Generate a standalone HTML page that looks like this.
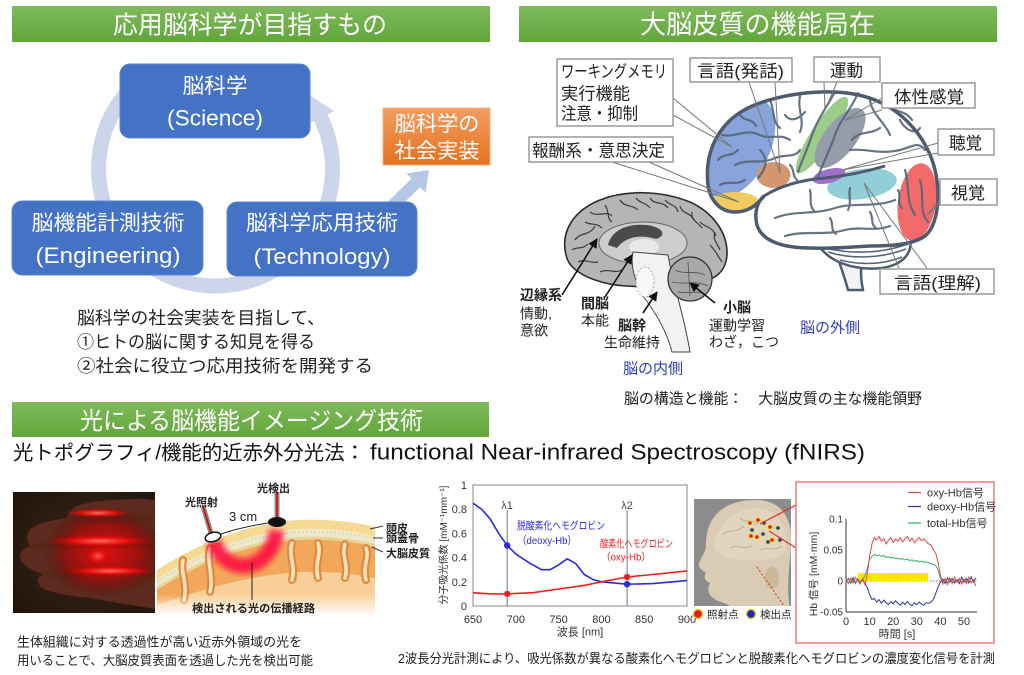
<!DOCTYPE html>
<html><head><meta charset="utf-8">
<style>
html,body{margin:0;padding:0;background:#fff;width:1024px;height:675px;overflow:hidden;}
svg{display:block;}
</style></head><body>
<svg width="1024" height="675" viewBox="0 0 1024 675" xmlns="http://www.w3.org/2000/svg" font-family="'Liberation Sans','Noto Sans CJK JP',sans-serif">
<defs>
<linearGradient id="gbar" x1="0" y1="0" x2="0" y2="1"><stop offset="0" stop-color="#7fba5b"/><stop offset="1" stop-color="#62a63b"/></linearGradient>
<linearGradient id="gor" x1="0" y1="0" x2="0" y2="1"><stop offset="0" stop-color="#f29d60"/><stop offset="1" stop-color="#e5721f"/></linearGradient>
<radialGradient id="handbg" cx="0.55" cy="0.5" r="0.7"><stop offset="0" stop-color="#3e2618"/><stop offset="1" stop-color="#21150c"/></radialGradient>
<radialGradient id="glow" cx="0.5" cy="0.5" r="0.5"><stop offset="0" stop-color="#ff6a5a" stop-opacity="1"/><stop offset="0.5" stop-color="#f01010" stop-opacity="0.85"/><stop offset="1" stop-color="#a00000" stop-opacity="0"/></radialGradient>
<radialGradient id="bigglow" cx="0.5" cy="0.5" r="0.5"><stop offset="0" stop-color="#e81010" stop-opacity="0.95"/><stop offset="0.6" stop-color="#b00808" stop-opacity="0.7"/><stop offset="1" stop-color="#600000" stop-opacity="0"/></radialGradient>
<linearGradient id="fadeb" x1="0" y1="0" x2="0" y2="1"><stop offset="0" stop-color="#fff" stop-opacity="0"/><stop offset="1" stop-color="#fff" stop-opacity="1"/></linearGradient>
<filter id="blur3" x="-30%" y="-30%" width="160%" height="160%"><feGaussianBlur stdDeviation="3"/></filter>
<filter id="blur2" x="-30%" y="-30%" width="160%" height="160%"><feGaussianBlur stdDeviation="1.5"/></filter>
<marker id="ah" viewBox="0 0 10 10" refX="9" refY="5" markerWidth="6" markerHeight="6" orient="auto"><path d="M0,0 L10,5 L0,10 z" fill="#111"/></marker>
<clipPath id="cbclip"><path d="M 708,185 C 704,150 720,118 757,104 C 790,92 840,86 875,100 C 905,112 928,140 935,170 C 941,195 938,225 925,236 C 912,245 890,246 870,246 C 850,247 830,249 810,248 C 785,248 762,242 757,225 C 754,213 757,202 764,196 C 756,206 748,212 735,212 C 720,212 710,200 708,185 Z"/></clipPath>
<clipPath id="xsclip"><rect x="155" y="480" width="225" height="135"/></clipPath>
<clipPath id="handclip"><rect x="13" y="492" width="142" height="121"/></clipPath>
<clipPath id="headclip"><rect x="694" y="499" width="97" height="107"/></clipPath>
</defs>

<!-- ================= TOP LEFT ================= -->
<rect x="12" y="6" width="478" height="36" fill="url(#gbar)"/>
<text x="250" y="33.5" text-anchor="middle" font-size="25" fill="#fff" textLength="274" lengthAdjust="spacingAndGlyphs">応用脳科学が目指すもの</text>

<path d="M 320.7 117.7 A 117 117 0 1 1 140.3 79.4" fill="none" stroke="#cdd5ea" stroke-width="15"/>
<polygon points="334.2,111.1 307.2,124.3 302.5,90.7" fill="#cdd5ea"/>
<polygon points="394.2,212.3 420,187.1 425.5,192.5 429,170 406.5,173.5 411.6,178.5 385.8,203.7" fill="#b4c7e7"/>

<rect x="120" y="64" width="190" height="74" rx="10" fill="#4472c4" stroke="#5a86d0" stroke-width="1"/>
<text x="215" y="93" text-anchor="middle" font-size="21" fill="#fff" textLength="65" lengthAdjust="spacingAndGlyphs">脳科学</text>
<text x="215" y="125.5" text-anchor="middle" font-size="22" fill="#fff" textLength="96" lengthAdjust="spacingAndGlyphs">(Science)</text>

<rect x="12" y="201" width="191" height="74" rx="10" fill="#4472c4" stroke="#5a86d0" stroke-width="1"/>
<text x="108" y="230" text-anchor="middle" font-size="21" fill="#fff" textLength="153" lengthAdjust="spacingAndGlyphs">脳機能計測技術</text>
<text x="108" y="263" text-anchor="middle" font-size="22" fill="#fff" textLength="145" lengthAdjust="spacingAndGlyphs">(Engineering)</text>

<rect x="227" y="202" width="190" height="74" rx="10" fill="#4472c4" stroke="#5a86d0" stroke-width="1"/>
<text x="322" y="230" text-anchor="middle" font-size="21" fill="#fff" textLength="152" lengthAdjust="spacingAndGlyphs">脳科学応用技術</text>
<text x="322" y="264" text-anchor="middle" font-size="22" fill="#fff" textLength="137" lengthAdjust="spacingAndGlyphs">(Technology)</text>

<rect x="383" y="108" width="107" height="57" fill="url(#gor)" stroke="#f4b183" stroke-width="1"/>
<text x="437" y="131" text-anchor="middle" font-size="21" fill="#fff" textLength="85" lengthAdjust="spacingAndGlyphs">脳科学の</text>
<text x="437" y="158" text-anchor="middle" font-size="21" fill="#fff" textLength="85" lengthAdjust="spacingAndGlyphs">社会実装</text>

<text x="77" y="324" font-size="17.5" fill="#222" textLength="248" lengthAdjust="spacingAndGlyphs">脳科学の社会実装を目指して、</text>
<text x="77" y="348" font-size="17.5" fill="#222" textLength="238" lengthAdjust="spacingAndGlyphs">①ヒトの脳に関する知見を得る</text>
<text x="77" y="372" font-size="17.5" fill="#222" textLength="296" lengthAdjust="spacingAndGlyphs">②社会に役立つ応用技術を開発する</text>

<!-- ================= TOP RIGHT ================= -->
<rect x="519" y="6" width="478" height="36" fill="url(#gbar)"/>
<text x="757.5" y="33.5" text-anchor="middle" font-size="26" fill="#fff" textLength="235" lengthAdjust="spacingAndGlyphs">大脳皮質の機能局在</text>

<!-- lateral brain -->
<path d="M 834,246 C 839,262 845,278 848,290 L 863,290 C 860,276 860,262 866,250 Z" fill="#f4f4f4" stroke="#4d5b6e" stroke-width="2.5"/>
<path d="M 818,244 C 828,262 855,271 882,268 C 902,265 913,254 910,238 Z" fill="#fff" stroke="#4d5b6e" stroke-width="2.5"/>
<g fill="none" stroke="#56657a" stroke-width="1.6">
<path d="M 828,252 C 850,259 880,259 906,249"/>
<path d="M 840,260 C 860,265 882,265 902,257"/>
<path d="M 825,248 C 850,254 880,254 908,244"/>
</g>
<path d="M 708,185 C 704,150 720,118 757,104 C 790,92 840,86 875,100 C 905,112 928,140 935,170 C 941,195 938,225 925,236 C 912,245 890,246 870,246 C 850,247 830,249 810,248 C 785,248 762,242 757,225 C 754,213 757,202 764,196 C 756,206 748,212 735,212 C 720,212 710,200 708,185 Z" fill="#fff"/>
<g clip-path="url(#cbclip)" opacity="0.9">
<ellipse cx="738" cy="148" rx="31" ry="54" transform="rotate(28 738 148)" fill="#7d9bd6"/>
<ellipse cx="735" cy="202" rx="24" ry="10" fill="#f0c64e"/>
<ellipse cx="773.5" cy="175" rx="17" ry="13" fill="#cf8c60"/>
<ellipse cx="822" cy="135" rx="11" ry="45" transform="rotate(33 822 135)" fill="#92c87c"/>
<ellipse cx="840" cy="138" rx="16" ry="36" transform="rotate(38 840 138)" fill="#8a93a2"/>
<ellipse cx="862" cy="184" rx="35" ry="15" transform="rotate(-8 862 184)" fill="#85c9d3"/>
<ellipse cx="829" cy="176" rx="17" ry="7" transform="rotate(-15 829 176)" fill="#9463c4"/>
<ellipse cx="917" cy="202" rx="19" ry="39" transform="rotate(8 917 202)" fill="#f25a5a"/>
</g>
<g fill="none" stroke="#56657a" stroke-width="2.2" stroke-linecap="round" opacity="0.9">
<path d="M 858,93 C 852,108 840,120 835,135 C 830,150 822,165 818,177"/>
<path d="M 835,92 C 828,105 818,118 812,135 C 808,148 802,160 798,172"/>
<path d="M 722,135 C 735,138 745,128 760,135 C 770,140 780,133 790,140"/>
<path d="M 735,165 C 748,158 760,165 775,158 C 785,154 795,158 800,150"/>
<path d="M 770,100 C 775,112 772,122 780,128"/>
<path d="M 800,96 C 797,110 805,120 800,132"/>
<path d="M 718,160 C 725,152 730,158 738,150"/>
<path d="M 740,115 C 745,122 752,118 756,126"/>
<path d="M 785,115 C 790,122 798,120 805,112"/>
<path d="M 720,185 C 728,180 735,186 745,180"/>
<path d="M 870,100 C 872,115 885,122 890,135"/>
<path d="M 850,150 C 865,148 880,155 900,150 C 910,148 918,140 925,150"/>
<path d="M 900,120 C 905,130 915,135 920,128"/>
<path d="M 880,128 C 870,135 860,130 852,140"/>
<path d="M 885,105 C 895,112 905,110 912,120"/>
<path d="M 775,218 C 795,210 815,215 835,208 C 855,202 875,208 895,200"/>
<path d="M 785,236 C 805,230 825,236 845,230 C 860,226 875,232 890,226"/>
<path d="M 810,190 C 812,198 808,205 815,212"/>
<path d="M 850,188 C 848,196 852,202 848,210"/>
<path d="M 830,218 C 834,224 830,230 836,234"/>
<path d="M 870,212 C 874,218 870,224 876,228"/>
<path d="M 905,170 C 910,185 905,200 915,215"/>
<path d="M 920,180 C 925,195 918,210 928,222"/>
<path d="M 898,190 C 902,196 896,202 902,208"/>
<path d="M 760,150 C 770,160 765,170 758,178"/>
<path d="M 790,165 C 795,170 792,176 797,180"/>
</g>
<path d="M 764,196 C 780,186 800,180 825,178 C 845,176 865,172 885,166" fill="none" stroke="#4d5b6e" stroke-width="3"/>
<path d="M 708,185 C 704,150 720,118 757,104 C 790,92 840,86 875,100 C 905,112 928,140 935,170 C 941,195 938,225 925,236 C 912,245 890,246 870,246 C 850,247 830,249 810,248 C 785,248 762,242 757,225 C 754,213 757,202 764,196 C 756,206 748,212 735,212 C 720,212 710,200 708,185 Z" fill="none" stroke="#4d5b6e" stroke-width="3.5"/>

<g stroke="#777" stroke-width="1" fill="none">
<path d="M 673,98 L 732,147 L 673,115"/>
<path d="M 612,162 L 739,202 L 649,162"/>
<path d="M 749,82 L 780,173 L 775,82"/>
<path d="M 824,82 L 825,110 L 837,82"/>
<path d="M 882,98 L 845,120 L 882,110"/>
<path d="M 938,143 L 842,170 L 938,153"/>
<path d="M 940,200 L 927,215 L 940,204"/>
<path d="M 899,268 L 864,183 L 927,268"/>
</g>

<g fill="#fff" stroke="#9a9a9a" stroke-width="1.5">
<rect x="557" y="59" width="116" height="67"/>
<rect x="529" y="137" width="144" height="25"/>
<rect x="690" y="58" width="102" height="24"/>
<rect x="814" y="57" width="66" height="25"/>
<rect x="882" y="83" width="93" height="25"/>
<rect x="938" y="129" width="56" height="26"/>
<rect x="940" y="179" width="57" height="26"/>
<rect x="880" y="269" width="114" height="25"/>
</g>
<g font-size="17" fill="#222">
<text x="561" y="77.5" textLength="106" lengthAdjust="spacingAndGlyphs">ワーキングメモリ</text>
<text x="561" y="99.5" textLength="69" lengthAdjust="spacingAndGlyphs">実行機能</text>
<text x="561" y="119.5" textLength="77" lengthAdjust="spacingAndGlyphs">注意・抑制</text>
<text x="532" y="156.5" textLength="133" lengthAdjust="spacingAndGlyphs">報酬系・意思決定</text>
<text x="697" y="77" textLength="87" lengthAdjust="spacingAndGlyphs">言語(発話)</text>
<text x="830" y="76.5" textLength="33" lengthAdjust="spacingAndGlyphs">運動</text>
<text x="894" y="103" textLength="70" lengthAdjust="spacingAndGlyphs">体性感覚</text>
<text x="949" y="149" textLength="33" lengthAdjust="spacingAndGlyphs">聴覚</text>
<text x="951" y="199" textLength="34" lengthAdjust="spacingAndGlyphs">視覚</text>
<text x="894" y="289" textLength="87" lengthAdjust="spacingAndGlyphs">言語(理解)</text>
</g>

<!-- medial brain -->
<path d="M 566,255 C 560,230 575,210 600,200 C 625,190 660,190 690,202 C 712,212 728,232 727,255 C 726,268 720,276 708,280 C 690,284 670,282 655,285 C 635,288 612,286 595,280 C 578,274 568,266 566,255 Z" fill="#b5b5b5" stroke="#2a2a2a" stroke-width="1.6"/>
<g fill="none" stroke="#3a3a3a" stroke-width="1.2">
<path d="M 575,240 C 580,232 590,236 595,226"/>
<path d="M 590,212 C 598,218 606,210 612,216"/>
<path d="M 620,200 C 625,208 632,204 638,210"/>
<path d="M 650,198 C 655,206 662,200 668,208"/>
<path d="M 680,206 C 682,214 690,212 694,220"/>
<path d="M 700,222 C 706,228 712,226 716,236"/>
<path d="M 710,245 C 715,250 718,256 722,262"/>
<path d="M 578,262 C 585,258 590,264 598,262"/>
<path d="M 600,272 C 608,268 615,274 622,270"/>
<path d="M 572,250 C 578,246 582,250 588,244"/>
<path d="M 605,205 C 610,212 606,218 612,222"/>
<path d="M 636,198 C 640,204 646,202 650,208"/>
<path d="M 665,200 C 670,206 676,204 678,212"/>
<path d="M 692,212 C 690,220 698,222 702,228"/>
<path d="M 715,232 C 712,240 718,244 720,250"/>
<path d="M 585,222 C 592,226 596,222 602,228"/>
</g>
<ellipse cx="643" cy="243" rx="44" ry="21" fill="#cdcdcd" stroke="#666" stroke-width="1"/>
<path d="M 608,245 C 612,228 632,222 652,226 C 664,229 666,236 656,239 C 640,234 625,237 617,248 Z" fill="#4a4a4a"/>
<ellipse cx="644" cy="247" rx="15" ry="8" fill="#e8e8e8"/>
<path d="M 633,252 L 668,255 C 672,280 684,315 690,352 L 672,352 C 665,325 650,305 642,295 C 635,280 630,265 633,252 Z" fill="#f2f2f2" stroke="#444" stroke-width="1"/>
<ellipse cx="645" cy="282" rx="9" ry="15" fill="#f8f8f8" stroke="#999" stroke-width="0.8" stroke-dasharray="2,2"/>
<circle cx="690" cy="279" r="22" fill="#a8a8a8" stroke="#333" stroke-width="1.2"/>
<g fill="none" stroke="#555" stroke-width="0.9">
<path d="M 675,270 C 685,275 695,270 705,275"/>
<path d="M 672,282 C 684,285 696,280 708,286"/>
<path d="M 678,292 C 688,294 698,290 705,294"/>
<path d="M 688,262 L 690,296"/>
</g>
<g stroke="#111" stroke-width="1.6" marker-end="url(#ah)">
<line x1="562" y1="295" x2="597" y2="239"/>
<line x1="605" y1="297" x2="632" y2="255"/>
<line x1="643" y1="313" x2="657" y2="292"/>
<line x1="715" y1="303" x2="690" y2="283"/>
</g>
<g font-size="14" fill="#222">
<text x="520" y="300" font-weight="bold">辺縁系</text>
<text x="520" y="318.5">情動,</text>
<text x="520" y="335.5">意欲</text>
<text x="581" y="308.5" font-weight="bold">間脳</text>
<text x="581" y="325.5">本能</text>
<text x="618" y="330.5" font-weight="bold">脳幹</text>
<text x="604" y="347.5">生命維持</text>
<text x="723" y="312.5" font-weight="bold">小脳</text>
<text x="709" y="330.5">運動学習</text>
<text x="709" y="347">わざ，こつ</text>
</g>
<text x="623" y="373.5" font-size="15" fill="#3040c0">脳の内側</text>
<text x="800" y="332.5" font-size="15" fill="#3040c0">脳の外側</text>
<text x="624" y="403.5" font-size="15" fill="#222" textLength="298" lengthAdjust="spacingAndGlyphs">脳の構造と機能：　大脳皮質の主な機能領野</text>

<!-- ================= BOTTOM ================= -->
<rect x="12" y="402" width="477" height="35" fill="url(#gbar)"/>
<text x="251.5" y="429" text-anchor="middle" font-size="24" fill="#fff" textLength="343" lengthAdjust="spacingAndGlyphs">光による脳機能イメージング技術</text>

<text x="13" y="459.5" font-size="20" fill="#111" textLength="352" lengthAdjust="spacingAndGlyphs">光トポグラフィ/機能的近赤外分光法：</text>
<text x="370" y="459.5" font-size="22" fill="#111" textLength="495" lengthAdjust="spacingAndGlyphs">functional Near-infrared Spectroscopy (fNIRS)</text>

<!-- hand photo -->
<g clip-path="url(#handclip)">
<rect x="13" y="492" width="142" height="121" fill="url(#handbg)"/>
<path d="M 72,510 C 76,503 100,500 130,499 C 145,498 155,500 160,502 L 160,610 C 140,606 110,602 90,598 C 70,596 45,592 40,586 C 36,580 38,576 44,574 C 35,572 22,566 20,558 C 19,552 24,548 30,546 C 26,542 26,532 32,528 C 40,522 55,520 66,518 C 68,515 70,512 72,510 Z" fill="#5c2a1e"/>
<ellipse cx="105" cy="552" rx="62" ry="45" fill="url(#bigglow)"/>
<g fill="none" stroke="#3a1a12" stroke-width="1.2" opacity="0.7" filter="url(#blur2)">
<path d="M 66,518 C 90,520 120,518 158,520"/>
<path d="M 32,546 C 60,547 100,546 158,545"/>
<path d="M 44,574 C 70,574 110,572 158,572"/>
</g>
<ellipse cx="98" cy="513" rx="34" ry="5" fill="url(#glow)"/>
<ellipse cx="100" cy="541" rx="55" ry="7" fill="url(#glow)"/>
<ellipse cx="110" cy="571" rx="50" ry="6" fill="url(#glow)"/>
<ellipse cx="98" cy="556" rx="14" ry="10" fill="url(#glow)" opacity="0.8"/>
</g>

<!-- cross-section -->
<g clip-path="url(#xsclip)">
<path d="M 157,570 C 200,542 250,523 300,520 C 330,519 355,522 375,527 L 375,615 L 157,615 Z" fill="#f6da94"/>
<path d="M 157,579 C 200,551 250,532 300,529 C 330,528 355,531 375,536 L 375,615 L 157,615 Z" fill="#eee8c8"/>
<path d="M 157,582 C 200,554 250,535 300,532 C 330,531 355,534 375,539" fill="none" stroke="#cfc79a" stroke-width="1.5" stroke-dasharray="1,3"/>
<path d="M 157,587 C 200,559 250,540 300,537 C 330,536 355,539 375,544 L 375,615 L 157,615 Z" fill="#e6d49a"/>
<path d="M 157,590 C 200,562 250,543 300,540 C 330,539 355,542 375,547 L 375,615 L 157,615 Z" fill="#f2a85a"/>
<path d="M 157,615 L 157,605 C 200,590 250,575 300,572 C 330,571 355,574 375,578 L 375,615 Z" fill="#f8cf98"/>
<g fill="none" stroke-linecap="round">
<g stroke="#e08a3e" stroke-width="8">
<path d="M 183,560 C 180,572 188,584 184,600"/>
<path d="M 210,548 C 206,562 214,576 210,592"/>
<path d="M 292,543 C 288,556 296,566 292,580"/>
<path d="M 318,543 C 322,554 314,564 318,578"/>
<path d="M 345,544 C 341,556 349,564 345,578"/>
<path d="M 366,548 C 370,558 362,566 366,580"/>
</g>
<g stroke="#fde4bf" stroke-width="3.5">
<path d="M 183,560 C 180,572 188,584 184,600"/>
<path d="M 210,548 C 206,562 214,576 210,592"/>
<path d="M 292,543 C 288,556 296,566 292,580"/>
<path d="M 318,543 C 322,554 314,564 318,578"/>
<path d="M 345,544 C 341,556 349,564 345,578"/>
<path d="M 366,548 C 370,558 362,566 366,580"/>
</g>
</g>
<path d="M 214,541 C 222,574 268,578 277,530" fill="none" stroke="#ff1040" stroke-width="15" opacity="0.9" filter="url(#blur3)"/>
<rect x="155" y="594" width="225" height="22" fill="url(#fadeb)"/>
</g>
<line x1="252" y1="562" x2="252" y2="600" stroke="#222" stroke-width="1"/>
<line x1="203" y1="506" x2="211" y2="533" stroke="#8a8a8a" stroke-width="5"/>
<line x1="203" y1="506" x2="211" y2="533" stroke="#e00000" stroke-width="1.5"/>
<ellipse cx="213" cy="537" rx="8" ry="4.5" transform="rotate(-15 213 537)" fill="#fff" stroke="#111" stroke-width="1.5"/>
<line x1="277" y1="492" x2="277" y2="519" stroke="#8a8a8a" stroke-width="5"/>
<line x1="277" y1="492" x2="277" y2="519" stroke="#e00000" stroke-width="1.5"/>
<ellipse cx="277" cy="522" rx="9" ry="5" fill="#111"/>
<path d="M 221,534 C 235,529 255,525 268,523" fill="none" stroke="#222" stroke-width="1"/>
<text x="229" y="521" font-size="13" fill="#222">3 cm</text>
<g font-size="11" font-weight="bold" fill="#222">
<text x="185" y="506">光照射</text>
<text x="257" y="492">光検出</text>
<text x="386" y="532">頭皮</text>
<text x="386" y="542">頭蓋骨</text>
<text x="386" y="557">大脳皮質</text>
<text x="192" y="612" textLength="123" lengthAdjust="spacingAndGlyphs">検出される光の伝播経路</text>
</g>
<g stroke="#333" stroke-width="1">
<line x1="370" y1="529" x2="383" y2="526"/>
<line x1="373" y1="538" x2="383" y2="538"/>
<line x1="372" y1="547" x2="383" y2="552"/>
</g>
<text x="17" y="646.5" font-size="13" fill="#222" textLength="285" lengthAdjust="spacingAndGlyphs">生体組織に対する透過性が高い近赤外領域の光を</text>
<text x="17" y="665" font-size="13" fill="#222" textLength="296" lengthAdjust="spacingAndGlyphs">用いることで、大脳皮質表面を透過した光を検出可能</text>

<!-- absorption graph -->
<rect x="473" y="485" width="214" height="121" fill="none" stroke="#888" stroke-width="1"/>
<line x1="507.2" y1="510" x2="507.2" y2="606" stroke="#777" stroke-width="1"/>
<line x1="627.1" y1="510" x2="627.1" y2="606" stroke="#777" stroke-width="1"/>
<text x="507" y="509" font-size="11" fill="#444" text-anchor="middle">λ1</text>
<text x="627" y="509" font-size="11" fill="#444" text-anchor="middle">λ2</text>
<g font-size="11" fill="#333" text-anchor="end">
<text x="467" y="489">1</text>
<text x="467" y="513">0.8</text>
<text x="467" y="537.5">0.6</text>
<text x="467" y="561.5">0.4</text>
<text x="467" y="586">0.2</text>
<text x="467" y="610">0</text>
</g>
<g font-size="11" fill="#333" text-anchor="middle">
<text x="473" y="623">650</text>
<text x="515.8" y="623">700</text>
<text x="558.6" y="623">750</text>
<text x="601.4" y="623">800</text>
<text x="644.2" y="623">850</text>
<text x="687" y="623">900</text>
<text x="580" y="635.5">波長 [nm]</text>
</g>
<text transform="translate(447 545) rotate(-90)" font-size="10" fill="#333" text-anchor="middle">分子吸光係数 [mM⁻¹mm⁻¹]</text>
<polyline fill="none" stroke="#2a2ae0" stroke-width="1.6" points="473,503.2 481.6,509.2 490.1,518.9 498.7,533.4 507.2,545.5 515.8,554 528.6,562.4 541.5,569.7 550,569.7 558.6,564.9 567.2,558.8 575.7,563.6 584.3,574.5 592.8,579.4 601.4,581.8 627.1,584.2 652.8,583.6 687,580.6"/>
<polyline fill="none" stroke="#f02020" stroke-width="1.6" points="473,592.7 490,593.9 507.2,593.9 533,592.7 558.6,589 584.3,585.4 601.4,581.8 627.1,577 652.8,574.5 687,570.9"/>
<circle cx="507.2" cy="545.5" r="3.2" fill="#2a2ae0"/>
<circle cx="627.1" cy="584.2" r="3.2" fill="#2a2ae0"/>
<circle cx="507.2" cy="593.9" r="3.2" fill="#f02020"/>
<circle cx="627.1" cy="577" r="3.2" fill="#f02020"/>
<text x="517" y="529" font-size="10.5" fill="#2a2ae0" textLength="88" lengthAdjust="spacingAndGlyphs">脱酸素化ヘモグロビン</text>
<text x="517" y="544" font-size="10.5" fill="#2a2ae0" textLength="60" lengthAdjust="spacingAndGlyphs">（deoxy-Hb）</text>
<text x="600" y="547" font-size="10.5" fill="#f02020" textLength="73" lengthAdjust="spacingAndGlyphs">酸素化ヘモグロビン</text>
<text x="601" y="560.5" font-size="10.5" fill="#f02020" textLength="50" lengthAdjust="spacingAndGlyphs">（oxy-Hb）</text>

<!-- head photo -->
<g clip-path="url(#headclip)">
<rect x="694" y="499" width="97" height="107" fill="#8c8c8c"/>
<path d="M 706,545 C 706,514 726,500 756,500 C 781,500 793,518 791,545 C 790,565 786,585 790,610 L 735,610 C 728,602 718,603 712,597 C 707,593 708,587 710,583 C 705,581 703,577 706,573 C 700,569 697,566 700,561 C 702,556 706,551 706,545 Z" fill="#d9cbb4"/>
<path d="M 714,545 C 718,522 736,508 758,508 C 778,510 788,526 786,550 C 780,560 760,562 740,560 C 728,558 716,556 714,545 Z" fill="#e3d7c3" opacity="0.8"/>
<g fill="none" stroke="#bfae93" stroke-width="1">
<path d="M 722,535 C 730,528 736,534 744,526"/>
<path d="M 740,518 C 746,524 752,518 758,524"/>
<path d="M 730,548 C 738,544 744,550 752,546"/>
<path d="M 760,550 C 768,546 774,552 782,546"/>
</g>
<ellipse cx="772" cy="578" rx="7" ry="11" fill="#cbb898"/>
<path d="M 757,567 L 787,610" stroke="#e03030" stroke-width="1" stroke-dasharray="2,2"/>
</g>
<g stroke="#f0e000" stroke-width="0.8">
<circle cx="750" cy="523" r="2.2" fill="#e02020"/>
<circle cx="758" cy="520" r="2.2" fill="#e02020"/>
<circle cx="770" cy="527" r="2.2" fill="#e02020"/>
<circle cx="757" cy="537" r="2.2" fill="#e02020"/>
<circle cx="772" cy="540" r="2.2" fill="#e02020"/>
<circle cx="751" cy="536" r="2.2" fill="#e02020"/>
<circle cx="752" cy="530" r="2.2" fill="#2030d0"/>
<circle cx="764" cy="523" r="2.2" fill="#2030d0"/>
<circle cx="763" cy="534" r="2.2" fill="#2030d0"/>
<circle cx="778" cy="528" r="2.2" fill="#2030d0"/>
<circle cx="768" cy="542" r="2.2" fill="#2030d0"/>
<circle cx="780" cy="540" r="2.2" fill="#2030d0"/>
</g>
<line x1="760" y1="524" x2="796" y2="505" stroke="#e03030" stroke-width="1.2"/>
<line x1="769" y1="531" x2="796" y2="548" stroke="#e03030" stroke-width="1.2"/>
<circle cx="698" cy="614" r="4.5" fill="#e02020" stroke="#f0d000" stroke-width="1.3"/>
<text x="707" y="618" font-size="10.5" fill="#222">照射点</text>
<circle cx="751" cy="614" r="4.5" fill="#1a2ad0" stroke="#f0d000" stroke-width="1.3"/>
<text x="760" y="618" font-size="10.5" fill="#222">検出点</text>

<!-- fNIRS box -->
<rect x="796" y="482" width="198" height="161" fill="#fff" stroke="#f07c7c" stroke-width="1.5"/>
<line x1="846" y1="519" x2="846" y2="612" stroke="#333" stroke-width="1"/>
<line x1="846" y1="612" x2="977" y2="612" stroke="#333" stroke-width="1"/>
<line x1="846" y1="581" x2="977" y2="581" stroke="#777" stroke-width="1" stroke-dasharray="1.5,1.5"/>
<rect x="858" y="573" width="70" height="8" fill="#ffe600"/>
<g font-size="10" fill="#333" text-anchor="end">
<text x="843" y="522.5">0.1</text>
<text x="843" y="553.5">0.05</text>
<text x="843" y="584.5">0</text>
<text x="843" y="615.5">-0.05</text>
</g>
<g font-size="11" fill="#333" text-anchor="middle">
<text x="846" y="625">0</text>
<text x="869.6" y="625">10</text>
<text x="893.2" y="625">20</text>
<text x="916.8" y="625">30</text>
<text x="940.4" y="625">40</text>
<text x="964" y="625">50</text>
<text x="897" y="637.5">時間 [s]</text>
</g>
<text transform="translate(817 574) rotate(-90)" font-size="10.5" fill="#333" text-anchor="middle">Hb 信号 [mM·mm]</text>
<polyline fill="none" stroke="#2a38a0" stroke-width="1" points="846,582.2 848.4,578.5 850.7,582.9 853.1,577.9 855.4,583.5 857.8,579.1 860.2,582.2 862.5,579.8 864.9,583.5 867.2,587.2 869.6,594.6 872,599.6 874.3,598.4 876.7,602.1 879,599.6 881.4,603.3 883.8,600.2 886.1,602.7 888.5,604.6 890.8,601.5 893.2,603.9 895.6,600.8 897.9,603.3 900.3,605.2 902.6,602.1 905,604.6 907.4,601.5 909.7,603.9 912.1,605.8 914.4,602.7 916.8,604.6 919.2,602.1 921.5,603.9 923.9,605.2 926.2,602.7 928.6,603.3 931,602.1 933.3,599.6 935.7,593.4 938,587.2 940.4,582.2 942.8,579.1 945.1,583.5 947.5,577.9 949.8,582.2 952.2,578.5 954.6,582.9 956.9,579.8 959.3,583.5 961.6,577.3 964,582.2 966.4,578.5 968.7,582.9 971.1,576.7 973.4,582.2 975.8,577.9"/>
<polyline fill="none" stroke="#2fb35e" stroke-width="1" points="846,581 848.4,579.1 850.7,583.5 853.1,579.8 855.4,582.9 857.8,578.5 860.2,582.2 862.5,579.1 864.9,576 867.2,568.6 869.6,559.3 872,556.2 874.3,554.3 876.7,555.6 879,555 881.4,556.2 883.8,555.6 886.1,557.4 888.5,556.8 890.8,558.1 893.2,557.4 895.6,558.7 897.9,558.1 900.3,559.3 902.6,558.7 905,559.9 907.4,559.3 909.7,560.5 912.1,559.9 914.4,561.2 916.8,560.5 919.2,561.8 921.5,561.2 923.9,562.4 926.2,561.8 928.6,563 931,563.6 933.3,564.3 935.7,565.5 938,569.8 940.4,577.9 942.8,582.9 945.1,579.8 947.5,582.2 949.8,579.1 952.2,582.9 954.6,580.4 956.9,582.2 959.3,579.8 961.6,581.6 964,579.8 966.4,582.2 968.7,580.4 971.1,582.2 973.4,580.4 975.8,581"/>
<polyline fill="none" stroke="#e84848" stroke-width="1" points="846,579.8 848.4,583.5 850.7,577.9 853.1,582.9 855.4,577.3 857.8,581 860.2,584.1 862.5,578.5 864.9,584.7 867.2,574.8 869.6,556.2 872,543.8 874.3,537.6 876.7,540.1 879,536.4 881.4,541.3 883.8,538.8 886.1,543.8 888.5,540.1 890.8,537.6 893.2,542.6 895.6,538.8 897.9,541.3 900.3,537.6 902.6,541.9 905,538.8 907.4,536.4 909.7,541.3 912.1,538.2 914.4,542.6 916.8,540.1 919.2,537.6 921.5,540.7 923.9,538.8 926.2,541.9 928.6,543.8 931,545 933.3,550 935.7,553.1 938,562.4 940.4,574.8 942.8,584.1 945.1,578.5 947.5,584.7 949.8,577.9 952.2,583.5 954.6,577.3 956.9,582.2 959.3,578.5 961.6,584.1 964,579.1 966.4,583.5 968.7,577.3 971.1,582.9 973.4,579.8 975.8,586"/>
<line x1="908" y1="492.5" x2="921" y2="492.5" stroke="#e84848" stroke-width="1.2"/>
<line x1="908" y1="506.5" x2="921" y2="506.5" stroke="#2a38a0" stroke-width="1.2"/>
<line x1="908" y1="523" x2="921" y2="523" stroke="#2fb35e" stroke-width="1.2"/>
<g font-size="11" fill="#333">
<text x="927" y="496.5">oxy-Hb信号</text>
<text x="927" y="510.5">deoxy-Hb信号</text>
<text x="927" y="527">total-Hb信号</text>
</g>

<text x="398" y="663" font-size="13" fill="#222" textLength="597" lengthAdjust="spacingAndGlyphs">2波長分光計測により、吸光係数が異なる酸素化ヘモグロビンと脱酸素化ヘモグロビンの濃度変化信号を計測</text>
</svg>
</body></html>
